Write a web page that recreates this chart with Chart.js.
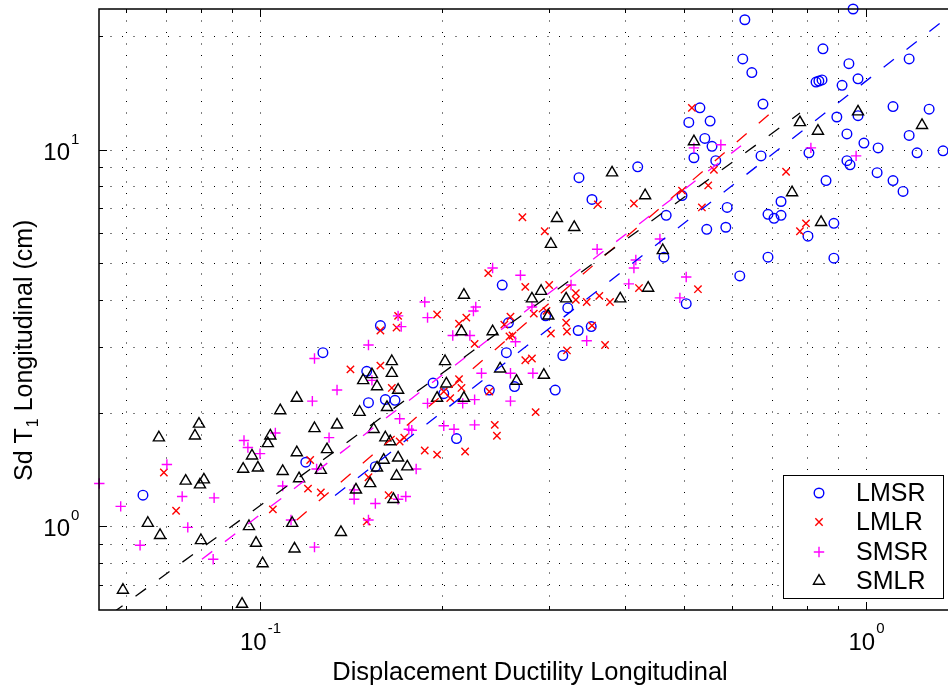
<!DOCTYPE html>
<html>
<head>
<meta charset="utf-8">
<title>Sd T1 vs Displacement Ductility</title>
<script src="https://cdn.jsdelivr.net/npm/chart.js@4.4.1/dist/chart.umd.min.js"></script>
<style>
  html, body { margin: 0; padding: 0; background: #fff; overflow: hidden; }
  canvas { display: block; }
</style>
</head>
<body>
<canvas id="chart" width="948" height="690"></canvas>
<script>
// ---- data: [displacement ductility, Sd T1 (cm)] ----
const lmsr = [
  [0.631,22.1],[0.952,23.6],[0.849,18.5],[0.626,17.4],[0.648,16.0],[0.937,16.9],[0.970,15.4],
  [0.827,15.1],[0.836,15.2],[0.846,15.3],[0.913,14.8],[1.178,17.4],[0.676,13.2],[0.532,12.9],
  [0.510,11.8],[0.553,11.9],[0.542,10.7],[0.557,10.2],[0.520,9.51],[0.565,9.34],[0.420,9.0],
  [0.671,9.62],[0.895,12.2],[0.970,12.3],[1.108,13.0],[1.271,12.8],[0.930,11.0],[0.992,10.4],
  [1.047,10.1],[1.178,10.9],[1.214,9.80],[1.340,9.92],[0.805,9.80],[0.930,9.34],[0.941,9.11],
  [0.859,8.27],[1.043,8.68],[1.108,8.27],[1.151,7.74],[0.497,7.55],[0.468,6.69],[0.590,7.02],
  [0.724,7.28],[0.689,6.73],[0.705,6.57],[0.724,6.69],[0.546,6.14],[0.587,6.22],[0.885,6.37],
  [0.802,5.89],[0.689,5.18],[0.885,5.15],[0.619,4.62],[0.464,5.18],[0.505,3.90],[0.322,3.80],
  [0.296,3.62],[0.335,3.31],[0.352,3.39],[0.316,2.84],[0.307,2.30],[0.336,8.42],[0.353,7.37],
  [0.251,4.37],[0.257,3.47],[0.158,3.41],[0.127,2.89],[0.255,2.89],[0.150,2.58],[0.193,2.40],
  [0.263,2.35],[0.239,2.30],[0.151,2.13],[0.161,2.17],[0.167,2.16],[0.201,2.25],[0.211,1.71],
  [0.119,1.48],[0.155,1.44],[0.0641,1.21]
];
const lmlr = [
  [0.516,12.9],[0.414,7.19],[0.497,7.78],[0.549,8.03],[0.561,8.84],[0.738,8.73],[0.536,7.02],
  [0.796,6.37],[0.778,6.07],[0.271,6.61],[0.295,6.07],[0.361,7.15],[0.274,4.32],[0.300,4.37],
  [0.332,4.16],[0.332,3.99],[0.346,3.94],[0.363,4.09],[0.378,3.94],[0.422,4.29],[0.528,4.26],
  [0.283,3.67],[0.297,3.73],[0.320,3.47],[0.321,3.29],[0.302,3.25],[0.353,3.41],[0.371,3.03],
  [0.321,2.93],[0.274,2.76],[0.281,2.79],[0.238,4.70],[0.196,3.65],[0.219,3.58],[0.213,3.45],
  [0.168,3.37],[0.158,3.31],[0.169,3.62],[0.259,3.60],[0.253,3.43],[0.258,3.19],[0.261,3.21],
  [0.226,3.05],[0.158,2.67],[0.141,2.61],[0.213,2.46],[0.215,2.33],[0.165,2.33],[0.201,2.28],
  [0.206,2.19],[0.239,2.28],[0.170,1.68],[0.173,1.72],[0.187,1.59],[0.196,1.55],[0.218,1.58],
  [0.244,1.86],[0.246,1.74],[0.121,1.50],[0.151,1.35],[0.120,1.26],[0.126,1.23],[0.163,1.21],
  [0.285,2.01],[0.150,1.03],[0.0694,1.39],[0.0727,1.10],[0.105,1.11]
];
const smsr = [
  [0.520,10.1],[0.576,10.3],[0.811,10.1],[0.963,9.62],[0.457,5.79],[0.360,5.44],[0.417,5.09],
  [0.414,4.85],[0.505,4.59],[0.406,4.40],[0.326,4.37],[0.493,4.04],[0.269,4.64],[0.281,3.82],
  [0.346,3.11],[0.282,2.55],[0.242,4.85],[0.187,3.94],[0.189,3.58],[0.171,3.39],[0.169,3.62],
  [0.227,3.82],[0.225,3.73],[0.208,3.21],[0.222,3.21],[0.151,3.03],[0.123,2.79],[0.153,2.44],
  [0.134,2.30],[0.122,2.15],[0.232,2.55],[0.259,2.55],[0.264,3.09],[0.189,2.12],[0.216,2.12],
  [0.226,2.17],[0.259,2.15],[0.170,1.93],[0.176,1.81],[0.178,1.80],[0.201,1.85],[0.209,1.81],
  [0.226,1.86],[0.130,1.72],[0.181,1.42],[0.124,1.42],[0.143,1.25],[0.143,1.18],[0.169,1.18],
  [0.174,1.20],[0.155,1.15],[0.151,1.04],[0.123,0.881],[0.0702,1.46],[0.0744,1.20],[0.0840,1.19],
  [0.0941,1.69],[0.0955,1.62],[0.100,1.56],[0.106,1.77],[0.109,1.28],[0.1125,1.04],[0.0543,1.30],
  [0.0589,1.13],[0.0634,0.891],[0.0760,0.994],[0.0837,0.818]
];
const smlr = [
  [0.970,12.6],[0.778,11.8],[0.833,11.2],[1.237,11.6],[0.520,10.5],[0.432,7.55],[0.755,7.69],
  [0.843,6.41],[0.381,8.68],[0.309,6.57],[0.330,6.22],[0.302,5.61],[0.462,5.40],[0.437,4.29],
  [0.393,4.02],[0.320,4.02],[0.291,4.21],[0.281,4.02],[0.299,3.62],[0.294,2.52],[0.217,4.11],
  [0.215,3.29],[0.242,3.29],[0.202,2.74],[0.165,2.74],[0.165,2.55],[0.153,2.53],[0.148,2.44],
  [0.156,2.35],[0.169,2.30],[0.203,2.39],[0.249,2.62],[0.265,2.43],[0.217,2.19],[0.196,2.19],
  [0.146,2.01],[0.134,1.86],[0.123,1.82],[0.154,1.81],[0.161,1.72],[0.164,1.68],[0.129,1.60],
  [0.160,1.50],[0.169,1.52],[0.175,1.44],[0.156,1.43],[0.126,1.41],[0.168,1.36],[0.152,1.30],
  [0.144,1.25],[0.166,1.18],[0.136,0.965],[0.162,2.07],[0.115,2.19],[0.108,2.03],[0.0793,1.87],
  [0.0781,1.74],[0.0681,1.72],[0.104,1.74],[0.103,1.66],[0.0970,1.54],[0.115,1.57],[0.0938,1.42],
  [0.0992,1.43],[0.109,1.40],[0.0754,1.32],[0.0808,1.33],[0.0796,1.29],[0.0653,1.02],[0.0684,0.947],
  [0.0799,0.918],[0.0959,1.00],[0.0985,0.903],[0.101,0.797],[0.0594,0.678],[0.0934,0.622],
  [0.113,1.02],[0.114,0.872],[0.116,1.34]
];

// power-law trend lines (end points, straight in log-log)
const lmsrFit = [[0.133, 1.207], [1.42, 23.6]];
const lmlrFit = [[0.115, 1.04], [0.700, 12.6]];
const smsrFit = [[0.0802, 0.818], [0.622, 10.23]];
const smlrFit = [[0.057, 0.588], [0.778, 12.5]];

// axes
const xRange = [0.05424, 1.3654];
const yRange = [0.6153, 23.6];
const xGridValues = [0.06, 0.07, 0.08, 0.09, 0.1, 0.2, 0.3, 0.4, 0.5, 0.6, 0.7, 0.8, 0.9, 1];
const yGridValues = [0.7, 0.8, 0.9, 1, 2, 3, 4, 5, 6, 7, 8, 9, 10, 20];
const xMajorTicks = [0.1, 1];
const xMajorExps = ['-1', '0'];
const yMajorTicks = [1, 10];
const yMajorExps = ['0', '1'];

const xTitle = 'Displacement Ductility Longitudinal';
const yTitleParts = ['Sd T', '1', ' Longitudinal (cm)'];

const FONT = '"Liberation Sans", Arial, Helvetica, sans-serif';

const toXY = arr => arr.map(([x, y]) => ({ x, y }));

const markerSets = [
  { label: 'LMSR', data: lmsr, color: '#0000ff', style: 'circle',   radius: 4.8, order: 7 },
  { label: 'LMLR', data: lmlr, color: '#ff0000', style: 'crossRot', radius: 5.2, order: 6 },
  { label: 'SMSR', data: smsr, color: '#ff00ff', style: 'cross',    radius: 5.2, order: 5 },
  { label: 'SMLR', data: smlr, color: '#000000', style: 'triangle', radius: 6.4, order: 4 }
];
const fitSets = [
  { data: lmsrFit, color: '#0000ff', order: 3 },
  { data: lmlrFit, color: '#ff0000', order: 2 },
  { data: smsrFit, color: '#ff00ff', order: 1 },
  { data: smlrFit, color: '#000000', order: 0 }
];

const MARKER_LW = 1.4;

const datasets = [
  ...markerSets.map(s => ({
    type: 'scatter',
    label: s.label,
    data: toXY(s.data),
    pointStyle: s.style,
    pointRadius: s.radius,
    pointHoverRadius: s.radius,
    pointBorderWidth: MARKER_LW,
    borderColor: s.color,
    backgroundColor: 'rgba(0,0,0,0)',
    showLine: false,
    clip: false,
    order: s.order
  })),
  ...fitSets.map(s => ({
    type: 'line',
    label: '',
    data: toXY(s.data),
    borderColor: s.color,
    borderWidth: 1.3,
    borderDash: [13, 16],
    pointRadius: 0,
    fill: false,
    tension: 0,
    order: s.order
  }))
];

function strokeMarker(ctx, style, r, x, y) {
  ctx.beginPath();
  if (style === 'circle') {
    ctx.arc(x, y, r, 0, Math.PI * 2);
  } else if (style === 'crossRot') {
    const d = r * Math.SQRT1_2;
    ctx.moveTo(x - d, y - d); ctx.lineTo(x + d, y + d);
    ctx.moveTo(x - d, y + d); ctx.lineTo(x + d, y - d);
  } else if (style === 'cross') {
    ctx.moveTo(x - r, y); ctx.lineTo(x + r, y);
    ctx.moveTo(x, y - r); ctx.lineTo(x, y + r);
  } else if (style === 'triangle') {
    ctx.moveTo(x, y - r);
    ctx.lineTo(x + 0.866 * r, y + 0.5 * r);
    ctx.lineTo(x - 0.866 * r, y + 0.5 * r);
    ctx.closePath();
  }
  ctx.stroke();
}

// dotted grid, behind the markers
const gridPlugin = {
  id: 'dottedGrid',
  beforeDatasetsDraw(chart) {
    const { ctx, chartArea: a, scales: { x, y } } = chart;
    ctx.save();
    ctx.strokeStyle = '#000';
    ctx.lineWidth = 1;
    ctx.setLineDash([1, 10.5]);
    xGridValues.forEach(v => {
      const px = Math.round(x.getPixelForValue(v)) + 0.5;
      ctx.beginPath(); ctx.moveTo(px, a.top); ctx.lineTo(px, a.bottom); ctx.stroke();
    });
    yGridValues.forEach(v => {
      const py = Math.round(y.getPixelForValue(v)) + 0.5;
      ctx.beginPath(); ctx.moveTo(a.left, py); ctx.lineTo(a.right, py); ctx.stroke();
    });
    ctx.restore();
  }
};

// axes box, inward ticks, labels, legend
const axesPlugin = {
  id: 'axesDecor',
  afterDraw(chart) {
    const { ctx, chartArea: a, scales: { x, y } } = chart;
    ctx.save();
    ctx.setLineDash([]);
    ctx.strokeStyle = '#000';
    ctx.lineWidth = 1.5;
    ctx.beginPath();
    ctx.moveTo(a.right + 2, a.top); ctx.lineTo(a.left, a.top);
    ctx.lineTo(a.left, a.bottom); ctx.lineTo(a.right + 2, a.bottom);
    ctx.stroke();

    // tick marks
    ctx.lineWidth = 1;
    xGridValues.forEach(v => {
      const len = xMajorTicks.includes(v) ? 8 : 4;
      const px = Math.round(x.getPixelForValue(v)) + 0.5;
      ctx.beginPath();
      ctx.moveTo(px, a.bottom); ctx.lineTo(px, a.bottom - len);
      ctx.moveTo(px, a.top); ctx.lineTo(px, a.top + len);
      ctx.stroke();
    });
    yGridValues.forEach(v => {
      const len = yMajorTicks.includes(v) ? 8 : 4;
      const py = Math.round(y.getPixelForValue(v)) + 0.5;
      ctx.beginPath();
      ctx.moveTo(a.left, py); ctx.lineTo(a.left + len, py);
      ctx.stroke();
    });

    // tick labels: 10 with superscript exponent
    ctx.fillStyle = '#000';
    const baseFont = '24px ' + FONT;
    const supFont = '15px ' + FONT;
    xMajorTicks.forEach((v, i) => {
      const px = x.getPixelForValue(v);
      ctx.font = baseFont; const wb = ctx.measureText('10').width;
      ctx.font = supFont; const ws = ctx.measureText(xMajorExps[i]).width;
      const x0 = px - (wb + ws) / 2;
      ctx.textAlign = 'left'; ctx.textBaseline = 'alphabetic';
      ctx.font = baseFont; ctx.fillText('10', x0, a.bottom + 40);
      ctx.font = supFont; ctx.fillText(xMajorExps[i], x0 + wb + 1, a.bottom + 23);
    });
    yMajorTicks.forEach((v, i) => {
      const py = y.getPixelForValue(v);
      ctx.textAlign = 'right'; ctx.textBaseline = 'alphabetic';
      ctx.font = baseFont; ctx.fillText('10', a.left - 29, py + 10);
      ctx.textAlign = 'left';
      ctx.font = supFont; ctx.fillText(yMajorExps[i], a.left - 28, py - 6);
    });

    // axis titles
    ctx.font = '25.5px ' + FONT;
    ctx.textAlign = 'center'; ctx.textBaseline = 'alphabetic';
    ctx.fillText(xTitle, 530, 680);

    ctx.save();
    ctx.translate(32, 481);
    ctx.rotate(-Math.PI / 2);
    ctx.textAlign = 'left';
    let u = 0;
    ctx.font = '25px ' + FONT; ctx.fillText(yTitleParts[0], u, 0); u += ctx.measureText(yTitleParts[0]).width;
    ctx.font = '16px ' + FONT; ctx.fillText(yTitleParts[1], u + 1, 6); u += ctx.measureText(yTitleParts[1]).width + 1;
    ctx.font = '25px ' + FONT; ctx.fillText(yTitleParts[2], u, 0);
    ctx.restore();

    // legend
    const lx = 783.5, ly = 475.5, lw = 160, lh = 123;
    ctx.fillStyle = '#fff';
    ctx.fillRect(lx, ly, lw, lh);
    ctx.strokeStyle = '#000'; ctx.lineWidth = 1;
    ctx.strokeRect(lx, ly, lw, lh);
    const rowY = [493, 522, 552, 581];
    markerSets.forEach((s, i) => {
      ctx.strokeStyle = s.color; ctx.lineWidth = MARKER_LW;
      strokeMarker(ctx, s.style, s.radius, 819, rowY[i]);
      ctx.fillStyle = '#000';
      ctx.font = '25px ' + FONT;
      ctx.textAlign = 'left'; ctx.textBaseline = 'middle';
      ctx.fillText(s.label, 856, rowY[i] + 1);
    });
    ctx.restore();
  }
};

new Chart(document.getElementById('chart'), {
  type: 'scatter',
  data: { datasets },
  options: {
    responsive: false,
    animation: false,
    devicePixelRatio: 1,
    layout: { autoPadding: false, padding: { left: 99, top: 9, right: 0, bottom: 80 } },
    scales: {
      x: { type: 'logarithmic', min: xRange[0], max: xRange[1], display: false },
      y: { type: 'logarithmic', min: yRange[0], max: yRange[1], display: false }
    },
    plugins: { legend: { display: false }, tooltip: { enabled: false } },
    events: []
  },
  plugins: [gridPlugin, axesPlugin]
});
</script>
</body>
</html>
